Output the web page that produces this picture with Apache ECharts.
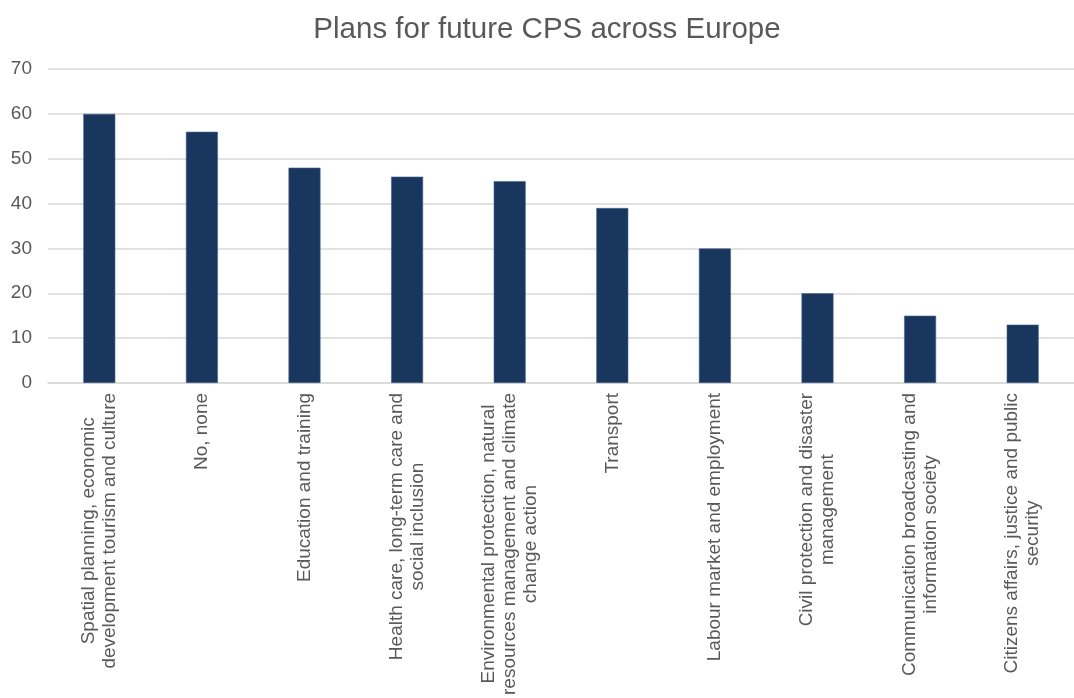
<!DOCTYPE html>
<html>
<head>
<meta charset="utf-8">
<title>Plans for future CPS across Europe</title>
<script src="https://cdn.jsdelivr.net/npm/echarts@6/dist/echarts.min.js"></script>
<style>
  html, body { margin: 0; padding: 0; background: #ffffff; }
  #chart { width: 1074px; height: 698px; }
</style>
</head>
<body>
<div id="chart"></div>
<script>
// Policy areas (line breaks as they wrap under the axis)
const categories = [
  'Spatial planning, economic\ndevelopment tourism and culture',
  'No, none',
  'Education and training',
  'Health care, long-term care and\nsocial inclusion',
  'Environmental protection, natural\nresources management and climate\nchange action',
  'Transport',
  'Labour market and employment',
  'Civil protection and disaster\nmanagement',
  'Communication broadcasting and\ninformation society',
  'Citizens affairs, justice and public\nsecurity'
];

// Number of responses per area
const values = [60, 56, 48, 46, 45, 39, 30, 20, 15, 13];

// Value axis ticks
const yTicks = [0, 10, 20, 30, 40, 50, 60, 70];

const titleText = 'Plans for future CPS across Europe';

const FONT = '"Liberation Sans", Arial, sans-serif';
const TEXT = '#595959';
const GRID = '#d9d9d9';

const chart = echarts.init(document.getElementById('chart'), null, { renderer: 'canvas' });

chart.setOption({
  animation: false,
  backgroundColor: '#ffffff',
  title: {
    text: titleText,
    left: 542,
    top: 10,
    textAlign: 'center',
    textStyle: { fontFamily: FONT, fontSize: 29.5, fontWeight: 'normal', color: TEXT }
  },
  grid: { left: 48, top: 69, width: 1032, height: 317, containLabel: false },
  xAxis: {
    type: 'category',
    data: categories,
    axisTick: { show: false },
    axisLine: { show: true, lineStyle: { color: GRID, width: 1.5 } },
    axisLabel: {
      interval: 0,
      rotate: 90,
      margin: 10,
      formatter: v => '{c|' + v + '}',
      rich: {
        c: { fontFamily: FONT, fontSize: 19, lineHeight: 21, color: TEXT, align: 'center' }
      }
    }
  },
  yAxis: {
    type: 'value',
    min: yTicks[0],
    max: yTicks[yTicks.length - 1],
    interval: yTicks[1] - yTicks[0],
    axisLine: { show: false },
    axisTick: { show: false },
    splitLine: { lineStyle: { color: GRID, width: 1.5 } },
    axisLabel: { margin: 16, fontFamily: FONT, fontSize: 19, color: TEXT }
  },
  series: [{
    type: 'bar',
    data: values,
    barWidth: 32,
    itemStyle: { color: '#19375e', borderColor: '#4a6690', borderWidth: 0.6 }
  }]
});
</script>
</body>
</html>
